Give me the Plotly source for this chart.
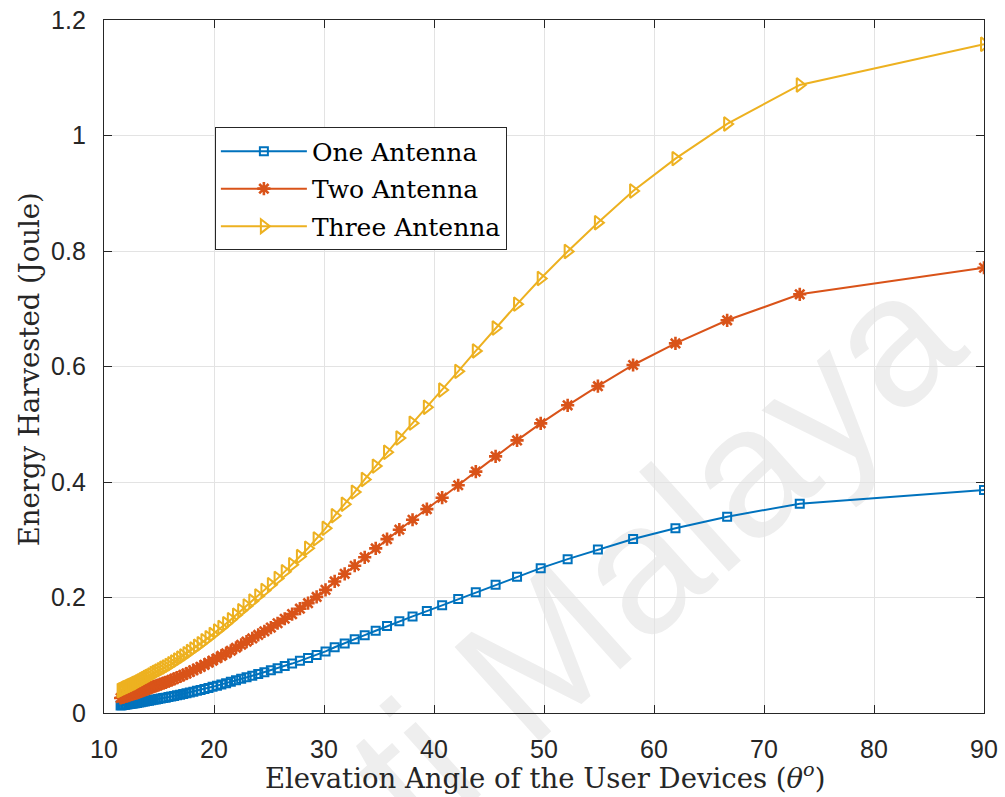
import plotly.graph_objects as go

# Elevation angle of the user devices (degrees)
theta = [11.51, 11.64, 11.78, 11.92, 12.06, 12.21, 12.36, 12.51, 12.67, 12.83,
         13.00, 13.17, 13.34, 13.52, 13.71, 13.90, 14.09, 14.29, 14.50, 14.71,
         14.92, 15.15, 15.38, 15.61, 15.86, 16.11, 16.37, 16.64, 16.92, 17.20,
         17.50, 17.80, 18.12, 18.45, 18.78, 19.13, 19.50, 19.87, 20.27, 20.67,
         21.10, 21.53, 22.00, 22.47, 22.96, 23.48, 24.02, 24.58, 25.17, 25.78,
         26.43, 27.10, 27.81, 28.55, 29.33, 30.14, 30.97, 31.88, 32.79, 33.70,
         34.70, 35.73, 36.85, 38.05, 39.35, 40.74, 42.20, 43.80, 45.60, 47.55,
         49.70, 52.15, 54.90, 58.10, 61.95, 66.65, 73.25, 90.00]

# Energy harvested (Joule)
one_antenna = [0.0130, 0.0134, 0.0138, 0.0143, 0.0147, 0.0151, 0.0156, 0.0160, 0.0165, 0.0170,
               0.0175, 0.0181, 0.0187, 0.0193, 0.0200, 0.0207, 0.0213, 0.0220, 0.0228, 0.0235,
               0.0242, 0.0250, 0.0258, 0.0266, 0.0275, 0.0284, 0.0295, 0.0306, 0.0317, 0.0329,
               0.0342, 0.0355, 0.0370, 0.0385, 0.0400, 0.0417, 0.0435, 0.0453, 0.0474, 0.0494,
               0.0516, 0.0539, 0.0565, 0.0591, 0.0618, 0.0646, 0.0676, 0.0707, 0.0740, 0.0777,
               0.0816, 0.0856, 0.0903, 0.0951, 0.1005, 0.1066, 0.1139, 0.1205, 0.1275, 0.1348,
               0.1425, 0.1505, 0.1587, 0.1673, 0.1765, 0.1864, 0.1972, 0.2090, 0.2222, 0.2360,
               0.2508, 0.2664, 0.2830, 0.3013, 0.3200, 0.3400, 0.3625, 0.3860]

two_antenna = [0.0260, 0.0268, 0.0276, 0.0286, 0.0294, 0.0302, 0.0312, 0.0320, 0.0330, 0.0340,
               0.0350, 0.0362, 0.0374, 0.0386, 0.0400, 0.0414, 0.0426, 0.0440, 0.0456, 0.0470,
               0.0484, 0.0500, 0.0516, 0.0532, 0.0550, 0.0568, 0.0590, 0.0612, 0.0634, 0.0658,
               0.0684, 0.0710, 0.0740, 0.0770, 0.0800, 0.0834, 0.0870, 0.0906, 0.0948, 0.0988,
               0.1032, 0.1078, 0.1130, 0.1182, 0.1236, 0.1292, 0.1352, 0.1414, 0.1480, 0.1554,
               0.1632, 0.1712, 0.1806, 0.1902, 0.2010, 0.2132, 0.2278, 0.2410, 0.2550, 0.2696,
               0.2850, 0.3010, 0.3174, 0.3346, 0.3530, 0.3728, 0.3944, 0.4180, 0.4444, 0.4720,
               0.5016, 0.5328, 0.5660, 0.6026, 0.6400, 0.6800, 0.7250, 0.7710]

three_antenna = [0.0390, 0.0402, 0.0414, 0.0429, 0.0441, 0.0453, 0.0468, 0.0480, 0.0495, 0.0510,
                 0.0525, 0.0543, 0.0561, 0.0579, 0.0600, 0.0621, 0.0639, 0.0660, 0.0684, 0.0705,
                 0.0726, 0.0750, 0.0774, 0.0798, 0.0825, 0.0852, 0.0885, 0.0918, 0.0951, 0.0987,
                 0.1026, 0.1065, 0.1110, 0.1155, 0.1200, 0.1251, 0.1305, 0.1359, 0.1422, 0.1482,
                 0.1548, 0.1617, 0.1695, 0.1773, 0.1854, 0.1938, 0.2028, 0.2121, 0.2220, 0.2331,
                 0.2448, 0.2568, 0.2709, 0.2853, 0.3015, 0.3198, 0.3417, 0.3615, 0.3825, 0.4044,
                 0.4275, 0.4515, 0.4761, 0.5019, 0.5295, 0.5592, 0.5916, 0.6270, 0.6666, 0.7080,
                 0.7524, 0.7992, 0.8490, 0.9039, 0.9600, 1.0200, 1.0875, 1.1580]

series_names = ["One Antenna", "Two Antenna", "Three Antenna"]
series_values = [one_antenna, two_antenna, three_antenna]
colors = ["#0072BD", "#D95319", "#EDB120"]
symbols = ["square-open", "asterisk-open", "triangle-right-open"]
marker_sizes = [8, 11, 12]
marker_lines = [2, 2.6, 2]

AXIS_COLOR = "#262626"
SANS = "Liberation Sans, Arial, sans-serif"
SERIF = "DejaVu Serif, serif"

fig = go.Figure()
for i, (name, vals) in enumerate(zip(series_names, series_values)):
    fig.add_trace(go.Scatter(
        x=theta, y=vals, name=name, mode="lines+markers",
        legendgroup=f"g{i}",
        line=dict(color=colors[i], width=2),
        marker=dict(symbol=symbols[i], size=marker_sizes[i], color=colors[i],
                    line=dict(color=colors[i], width=marker_lines[i])),
    ))

axis_common = dict(
    showline=True, linecolor=AXIS_COLOR, linewidth=1.3, mirror="ticks",
    ticks="inside", ticklen=8, tickwidth=1.3, tickcolor=AXIS_COLOR,
    showgrid=True, gridcolor="#e3e3e3", gridwidth=1, zeroline=False,
    automargin=False,
    tickfont=dict(family=SANS, size=25, color=AXIS_COLOR),
)

fig.update_xaxes(range=[10, 90], dtick=10, ticklabelstandoff=14, **axis_common)
fig.update_yaxes(range=[0, 1.2], dtick=0.2, ticklabelstandoff=12, **axis_common)

# faint watermark behind the grid
fig.add_shape(
    type="rect", xref="paper", yref="paper", x0=0.411, x1=0.811, y0=0.0504, y1=0.4504,
    line=dict(width=0), fillcolor="rgba(0,0,0,0)", layer="below",
    label=dict(text="ti Malaya", textangle=-42, textposition="middle center",
               font=dict(family=SANS, size=185, color="#eeeeee")),
)

fig.add_annotation(
    text="Elevation Angle of the User Devices (<i>θ<sup>o</sup></i>)",
    xref="paper", yref="paper", x=0.5008, y=-0.0916, xanchor="center", yanchor="middle",
    showarrow=False, font=dict(family=SERIF, size=27.5, color=AXIS_COLOR),
)
fig.add_annotation(
    text="Energy Harvested (Joule)",
    xref="paper", yref="paper", x=-0.0844, y=0.4957, xanchor="center", yanchor="middle",
    textangle=-90, showarrow=False, font=dict(family=SERIF, size=27.5, color=AXIS_COLOR),
)

fig.update_layout(
    width=1005, height=797,
    margin=dict(l=104, r=21, t=20, b=84, autoexpand=False),
    paper_bgcolor="white", plot_bgcolor="white",
    showlegend=True,
    legend=dict(
        x=0.126, y=0.845, xanchor="left", yanchor="top",
        bgcolor="white", bordercolor=AXIS_COLOR, borderwidth=1,
        font=dict(family=SERIF, size=25, color="black"),
        itemwidth=86, tracegroupgap=2,
    ),
)

fig.write_html("out.html")
